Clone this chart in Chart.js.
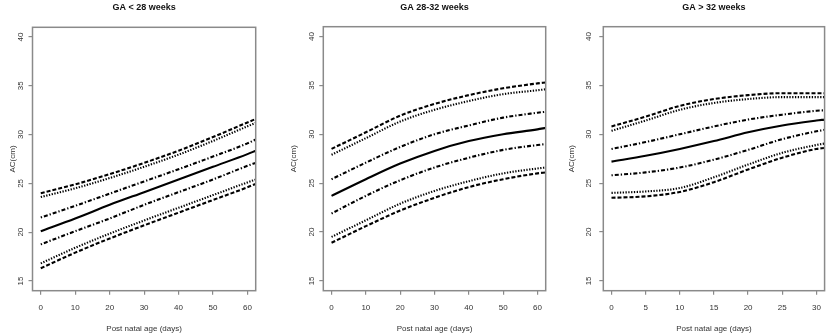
<!DOCTYPE html>
<html><head><meta charset="utf-8">
<script src="https://cdn.jsdelivr.net/npm/chart.js@4.4.1/dist/chart.umd.min.js"></script>
<style>
html,body{margin:0;padding:0;background:#fff;}
#wrap{position:relative;width:829px;height:336px;overflow:hidden;background:#fff;}
canvas{position:absolute;top:0;}
</style></head><body>
<div id="wrap">
<canvas id="c1" width="270" height="336" style="left:0px"></canvas>
<canvas id="c2" width="280" height="336" style="left:280px"></canvas>
<canvas id="c3" width="269" height="336" style="left:560px"></canvas>
</div>
<script>
// ---------- data ----------
const panelTitles = ['GA < 28 weeks', 'GA 28-32 weeks', 'GA > 32 weeks'];
const yAxisTitle = 'AC(cm)';
const xAxisTitle = 'Post natal age (days)';
const yTickValues = [15, 20, 25, 30, 35, 40];
const xTickValues1 = [0, 10, 20, 30, 40, 50, 60];
const xTickValues2 = [0, 10, 20, 30, 40, 50, 60];
const xTickValues3 = [0, 5, 10, 15, 20, 25, 30];

// panel 1: GA < 28 weeks
const days1 = [0, 10, 20, 30, 40, 50, 60, 62.4];
const p1Outer_hi = [24.0, 24.9, 25.95, 27.1, 28.35, 29.75, 31.25, 31.6];
const p1Inner_hi = [23.6, 24.5, 25.55, 26.7, 27.95, 29.35, 30.85, 31.2];
const p1Mid_hi   = [21.5, 22.7, 23.95, 25.2, 26.45, 27.75, 29.1, 29.5];
const p1Median   = [20.1, 21.4, 22.8, 24.1, 25.4, 26.7, 28.0, 28.35];
const p1Mid_lo   = [18.75, 20.1, 21.4, 22.8, 24.1, 25.4, 26.8, 27.1];
const p1Inner_lo = [16.8, 18.4, 19.85, 21.2, 22.5, 23.8, 25.1, 25.4];
const p1Outer_lo = [16.3, 17.9, 19.35, 20.7, 22.0, 23.3, 24.6, 24.95];

// panel 2: GA 28-32 weeks
const days2 = [0, 10, 20, 30, 40, 50, 60, 62.4];
const p2Outer_hi = [28.5, 30.2, 31.9, 33.1, 34.0, 34.7, 35.2, 35.3];
const p2Inner_hi = [27.9, 29.6, 31.3, 32.5, 33.4, 34.1, 34.5, 34.6];
const p2Mid_hi   = [25.4, 27.1, 28.7, 30.0, 30.9, 31.7, 32.2, 32.3];
const p2Median   = [23.7, 25.4, 27.0, 28.3, 29.3, 30.0, 30.5, 30.65];
const p2Mid_lo   = [21.9, 23.7, 25.3, 26.6, 27.6, 28.4, 28.9, 29.0];
const p2Inner_lo = [19.5, 21.2, 22.9, 24.2, 25.2, 26.0, 26.5, 26.6];
const p2Outer_lo = [18.9, 20.6, 22.2, 23.5, 24.6, 25.4, 26.0, 26.1];

// panel 3: GA > 32 weeks
const days3 = [0, 5, 10, 15, 20, 25, 30, 31.2];
const p3Outer_hi = [30.8, 31.8, 32.9, 33.6, 34.0, 34.2, 34.2, 34.2];
const p3Inner_hi = [30.35, 31.4, 32.5, 33.2, 33.6, 33.8, 33.8, 33.8];
const p3Mid_hi   = [28.5, 29.2, 30.0, 30.8, 31.5, 32.0, 32.4, 32.45];
const p3Median   = [27.2, 27.8, 28.5, 29.3, 30.2, 30.9, 31.4, 31.5];
const p3Mid_lo   = [25.8, 26.1, 26.6, 27.4, 28.4, 29.5, 30.3, 30.45];
const p3Inner_lo = [24.0, 24.15, 24.5, 25.6, 26.9, 28.1, 28.9, 29.05];
const p3Outer_lo = [23.5, 23.65, 24.1, 25.1, 26.4, 27.6, 28.5, 28.6];

// axis limits
const yRange = [14, 41];
const xRange1 = [-2.4, 62.4];
const xRange2 = [-2.4, 62.4];
const xRange3 = [-1.2, 31.2];

// ---------- styles / geometry ----------
const DASHED = [4, 2];
const DOTTED = [1.3, 1.5];
const DOTDASH = [1.3, 2, 4, 2];
const lineStyles = [DASHED, DOTTED, DOTDASH, [], DOTDASH, DOTTED, DASHED];
const FONT = "'Liberation Sans Narrow', 'Liberation Sans', Arial, sans-serif";
const AXIS_GRAY = '#8a8a8a';
const TEXT = '#333333';

const framePlugin = {
  id: 'frame',
  afterDraw(chart) {
    const {ctx, chartArea: a} = chart;
    ctx.save();
    ctx.strokeStyle = AXIS_GRAY;
    ctx.lineWidth = 1.5;
    ctx.strokeRect(a.left, a.top, a.right - a.left, a.bottom - a.top);
    ctx.restore();
  }
};

function makePanel(id, title, days, series, xTicks, xRange, geo) {
  const datasets = series.map((vals, i) => ({
    data: vals.map((v, k) => ({x: days[k], y: v})),
    borderColor: '#000',
    borderWidth: 2.1,
    borderDash: lineStyles[i],
    pointRadius: 0,
    fill: false,
    cubicInterpolationMode: 'monotone',
    clip: 0
  }));
  new Chart(document.getElementById(id), {
    type: 'line',
    data: {datasets},
    plugins: [framePlugin],
    options: {
      responsive: false,
      animation: false,
      events: [],
      layout: {padding: {left: 0, right: geo.padRight, top: 0, bottom: 0}},
      plugins: {
        legend: {display: false},
        tooltip: {enabled: false},
        title: {
          display: true, text: title, color: '#111', fullSize: false,
          font: {family: FONT, size: 9, weight: 'bold'},
          padding: {top: 2.4, bottom: geo.titleGap - 1.8}
        }
      },
      scales: {
        x: {
          type: 'linear', min: xRange[0], max: xRange[1],
          afterBuildTicks: (s) => { s.ticks = xTicks.map(v => ({value: v})); },
          afterFit: (s) => { s.height = 45.3; },
          grid: {display: true, drawOnChartArea: false, drawTicks: true, tickLength: 4, color: AXIS_GRAY, lineWidth: 1.2},
          border: {display: false},
          ticks: {color: TEXT, font: {family: FONT, size: 8}, padding: 8, maxRotation: 0, minRotation: 0},
          title: {display: true, text: xAxisTitle, color: TEXT, font: {family: FONT, size: 8}, padding: {top: 0, bottom: 2}}
        },
        y: {
          type: 'linear', min: yRange[0], max: yRange[1],
          afterBuildTicks: (s) => { s.ticks = yTickValues.map(v => ({value: v})); },
          afterFit: (s) => { s.width = geo.yWidth; },
          grid: {display: true, drawOnChartArea: false, drawTicks: true, tickLength: 4, color: AXIS_GRAY, lineWidth: 1.2},
          border: {display: false},
          ticks: {color: TEXT, font: {family: FONT, size: 8}, padding: geo.yTickPad, minRotation: 90, maxRotation: 90, crossAlign: 'center'},
          title: {display: true, text: yAxisTitle, color: TEXT, font: {family: FONT, size: 8}, padding: {top: geo.yTitlePad, bottom: 0}}
        }
      }
    }
  });
}

makePanel('c1', panelTitles[0], days1,
  [p1Outer_hi, p1Inner_hi, p1Mid_hi, p1Median, p1Mid_lo, p1Inner_lo, p1Outer_lo],
  xTickValues1, xRange1, {padRight: 14.3, yWidth: 32.5, yTickPad: 3.6, yTitlePad: 8.2, titleGap: 15.9});
makePanel('c2', panelTitles[1], days2,
  [p2Outer_hi, p2Inner_hi, p2Mid_hi, p2Median, p2Mid_lo, p2Inner_lo, p2Outer_lo],
  xTickValues2, xRange2, {padRight: 14.3, yWidth: 43.3, yTickPad: 3.3, yTitlePad: 8.5, titleGap: 15.3});
makePanel('c3', panelTitles[2], days3,
  [p3Outer_hi, p3Inner_hi, p3Mid_hi, p3Median, p3Mid_lo, p3Inner_lo, p3Outer_lo],
  xTickValues3, xRange3, {padRight: 1.3, yWidth: 43.3, yTickPad: 5.8, yTitlePad: 6.9, titleGap: 15.3});
</script>
</body></html>
